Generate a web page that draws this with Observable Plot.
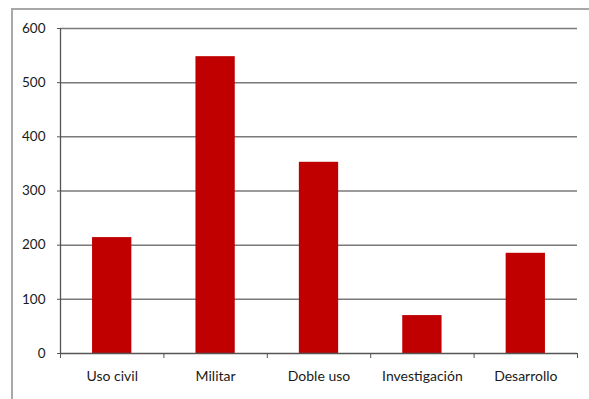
<!DOCTYPE html>
<html>
<head>
<meta charset="utf-8">
<script src="https://cdn.jsdelivr.net/npm/d3@7"></script>
<script src="https://cdn.jsdelivr.net/npm/@observablehq/plot@0.6"></script>
<style>
  html, body { margin: 0; padding: 0; background: #fff; }
  #wrap { position: relative; width: 589px; height: 399px; overflow: hidden; }
  #frame { position: absolute; left: 11px; top: 8px; width: 600px; height: 420px;
           border-left: 2px solid #a8a8a8; border-top: 2px solid #a8a8a8; box-sizing: border-box; }
  #chart { position: absolute; left: 0; top: 0; }
</style>
</head>
<body>
<div id="wrap"><div id="frame"></div><div id="chart"></div></div>
<script>
const categories = ["Uso civil", "Militar", "Doble uso", "Investigación", "Desarrollo"];
const values = [214, 548, 353, 70, 185];
const yTicks = [0, 100, 200, 300, 400, 500, 600];

const data = categories.map((c, i) => ({category: c, index: i, value: values[i]}));
const boundaries = d3.range(categories.length + 1);
const centers = categories.map((c, i) => i + 0.5);

const chart = Plot.plot({
  width: 589,
  height: 399,
  marginLeft: 60,
  marginRight: 12,
  marginTop: 28,
  marginBottom: 46,
  style: {background: "transparent", fontFamily: "Lato, sans-serif", fontSize: "13px", color: "#1a1a1a"},
  x: {type: "linear", domain: [0, categories.length], axis: null},
  y: {domain: [0, 600], axis: null},
  marks: [
    Plot.ruleY(yTicks.filter(d => d > 0), {stroke: "#7a7a7a", strokeWidth: 1.5}),
    Plot.rectY(data, {x1: d => d.index + 0.31, x2: d => d.index + 0.69, y1: 0, y2: "value", fill: "#c00000"}),
    Plot.ruleY([0], {stroke: "#555", strokeWidth: 1.3}),
    Plot.ruleX([0], {y1: 0, y2: 600, stroke: "#555", strokeWidth: 1.3}),
    Plot.axisY({ticks: yTicks, tickSize: 3, tickPadding: 12, stroke: "#555", label: null, tickFormat: d => d, fill: "#1a1a1a", fontSize: 13.5}),
    Plot.axisX({ticks: boundaries, tickSize: 5, tickFormat: () => "", label: null, stroke: "#555"}),
    Plot.axisX({ticks: centers, tickSize: 0, tickPadding: 18, label: null, tickFormat: d => categories[Math.round(d - 0.5)], fill: "#1a1a1a", fontSize: 14})
  ]
});
document.getElementById("chart").appendChild(chart);
</script>
</body>
</html>
